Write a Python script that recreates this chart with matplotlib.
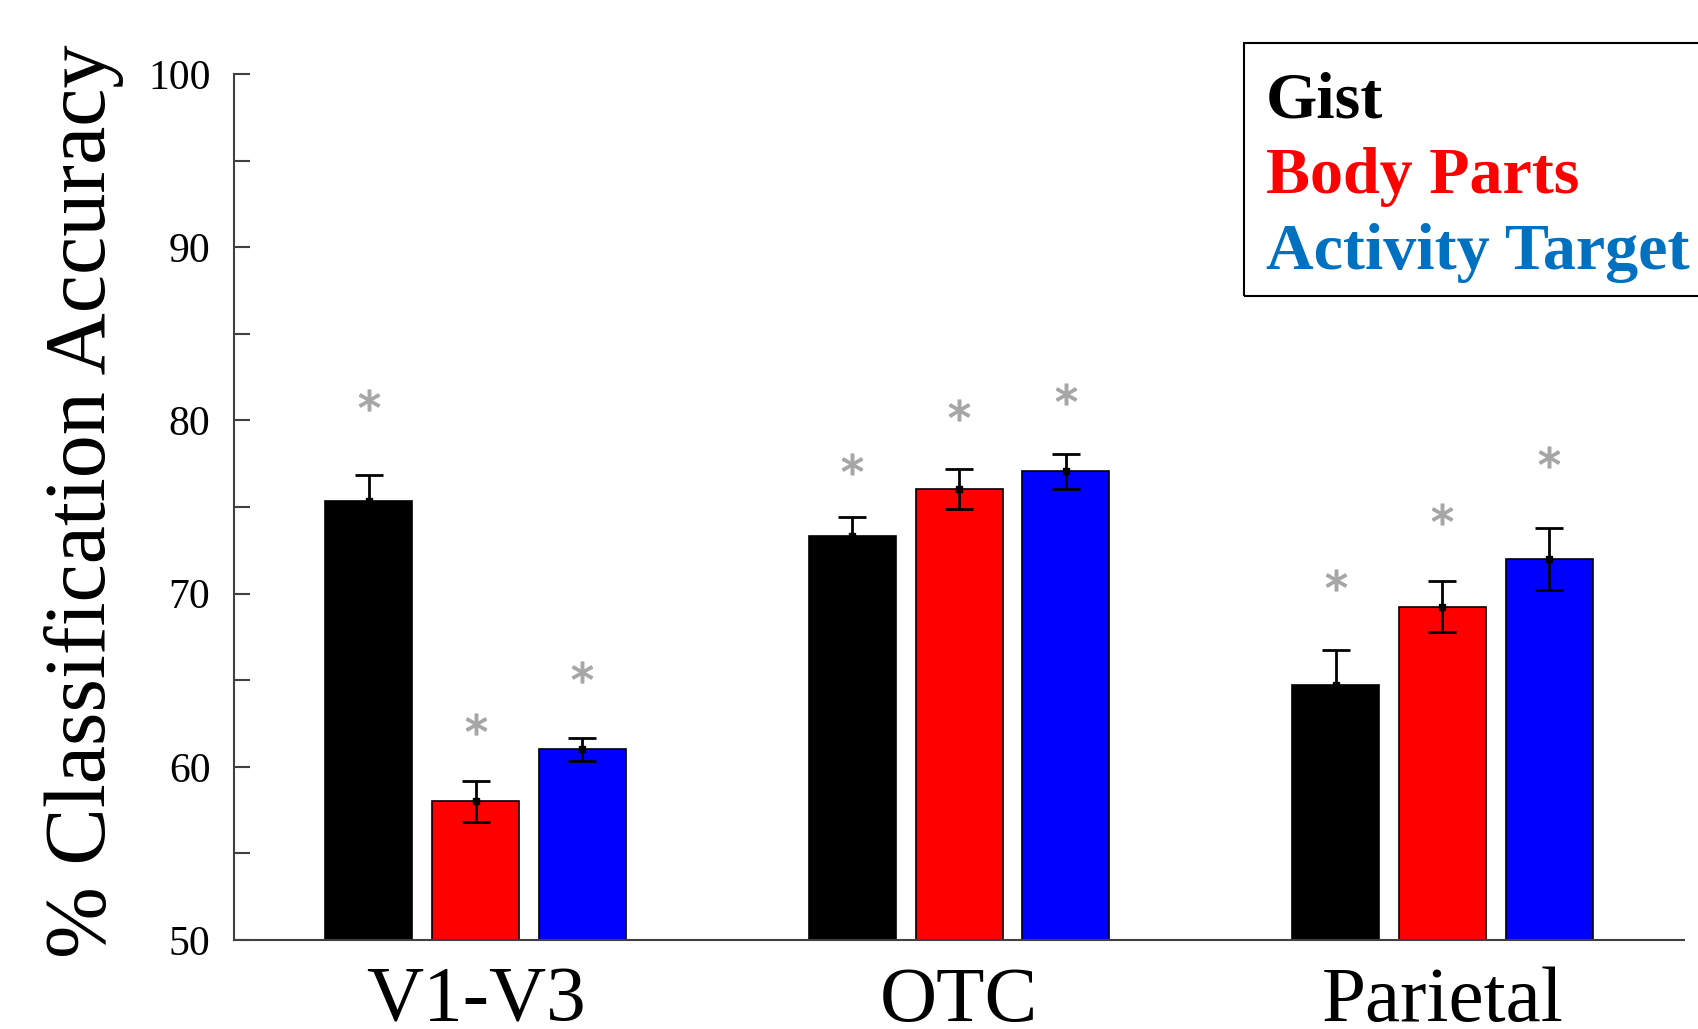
import numpy as np
import matplotlib
matplotlib.use('Agg')
import matplotlib.pyplot as plt
from matplotlib.patches import Rectangle

# Data
regions = ['V1-V3', 'OTC', 'Parietal']
labels = ['Gist', 'Body Parts', 'Activity Target']

gist = [75.35, 73.3, 64.7]
gist_err = [1.5, 1.1, 2.05]
body = [58.0, 76.05, 69.25]
body_err = [1.2, 1.15, 1.45]
activity = [61.0, 77.05, 72.0]
activity_err = [0.65, 1.0, 1.8]

# height of the significance asterisks
gist_star = [81.2, 77.5, 70.8]
body_star = [62.5, 80.6, 74.6]
activity_star = [65.5, 81.55, 77.9]

bar_colors = ['black', '#ff0000', '#0000ff']
text_colors = ['black', '#ff0000', '#0070c0']

serif = 'Liberation Serif'
W, H = 1698, 1029

fig = plt.figure(figsize=(W / 100, H / 100), dpi=100)
ax = fig.add_axes([234 / W, (H - 940) / H, 1450 / W, 866 / H])

x = np.arange(len(regions))
width = 0.18
step = 0.221

means = [gist, body, activity]
errs = [gist_err, body_err, activity_err]
stars = [gist_star, body_star, activity_star]

for i in range(3):
    pos = x + (i - 1) * step
    ax.bar(pos, means[i], width, bottom=0, color=bar_colors[i],
           edgecolor='black', linewidth=1.2, zorder=2)
    ax.errorbar(pos, means[i], yerr=errs[i], fmt='s', color='black',
                markersize=5, elinewidth=2, capsize=10, capthick=2, zorder=3)
    ax.plot(pos, stars[i], linestyle='none', marker='$*$', markersize=15,
            color='#a6a6a6', zorder=3)

ax.set_xlim(-0.5, 2.5)
ax.set_ylim(50, 100)

ax.set_yticks(np.arange(50, 101, 10))
ax.set_yticks(np.arange(55, 100, 10), minor=True)
ax.set_yticklabels([str(v) for v in range(50, 101, 10)], fontfamily=serif, fontsize=30)
ax.tick_params(axis='y', which='both', direction='in', length=11.5, width=1.5,
               color='#404040', pad=17)

ax.set_xticks(x)
ax.set_xticklabels(regions, fontfamily=serif, fontsize=57)
ax.tick_params(axis='x', length=0, pad=19)

for side in ['top', 'right']:
    ax.spines[side].set_visible(False)
for side in ['left', 'bottom']:
    ax.spines[side].set_color('#404040')
    ax.spines[side].set_linewidth(1.5)

fig.text(124 / W, 1 - 501 / H, '% Classification Accuracy', rotation=90,
         ha='right', va='center', fontfamily=serif, fontsize=62)

# legend box, drawn by hand (runs off the right edge)
box = Rectangle((1244 / W, 1 - 296 / H), 0.3, 253 / H, transform=fig.transFigure,
                fill=False, edgecolor='black', linewidth=1.5)
fig.add_artist(box)
for lab, col, base in zip(labels, text_colors, [117, 193, 269]):
    fig.text(1266 / W, 1 - base / H, lab, color=col, fontfamily=serif,
             fontweight='bold', fontsize=47.5, va='baseline', ha='left')

fig.savefig('out.png', dpi=100)
